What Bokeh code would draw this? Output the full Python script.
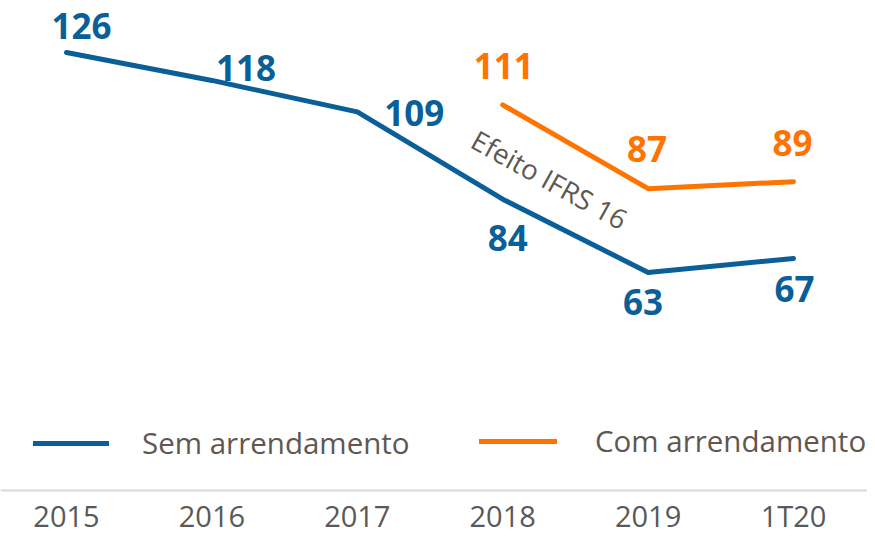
from bokeh.plotting import figure
from bokeh.models import (Range1d, FixedTicker, ColumnDataSource, Legend,
                          LegendItem, Label)
from bokeh.embed import file_html
from bokeh.resources import INLINE
from bokeh.core.properties import value

# ---- data -------------------------------------------------------------
categories = ["2015", "2016", "2017", "2018", "2019", "1T20"]
sem_arrendamento = [126, 118, 109, 84, 63, 67]
com_categories = ["2018", "2019", "1T20"]
com_arrendamento = [111, 87, 89]

# label offsets in screen pixels (style, not data)
sem_dx = [15, 34, 57, 5, -5, 1]
sem_dy = [-26, -12, 1, 39, 30, 30]
com_dx = [1, -1, -1]
com_dy = [-39, -40, -39]

BLUE = "#0A5F98"
ORANGE = "#FF7300"
TXT = "#5F5750"
AXIS_TXT = "#595959"

idx = {c: i for i, c in enumerate(categories)}
x_sem = [idx[c] for c in categories]
x_com = [idx[c] for c in com_categories]

p = figure(width=867, height=538, output_backend="svg", toolbar_location=None,
           x_range=Range1d(-0.454, 5.509), y_range=Range1d(-13.18, 140.89),
           y_axis_location=None,
           min_border_left=0, min_border_right=0, min_border_top=0,
           min_border_bottom=0)
p.outline_line_color = None
p.xgrid.visible = False
p.ygrid.visible = False
p.background_fill_color = None
p.border_fill_color = "white"

ax = p.xaxis[0]
ax.fixed_location = 0.6
ax.ticker = FixedTicker(ticks=list(range(len(categories))))
ax.major_label_overrides = {i: c for i, c in enumerate(categories)}
ax.axis_line_color = "#D9D9D9"
ax.axis_line_width = 2
ax.major_tick_line_color = None
ax.minor_tick_line_color = None
ax.major_label_standoff = 0
ax.major_label_text_font = "Open Sans"
ax.major_label_text_font_size = "29px"
ax.major_label_text_color = AXIS_TXT

src_sem = ColumnDataSource(dict(x=x_sem, y=sem_arrendamento,
                                t=[str(v) for v in sem_arrendamento],
                                dx=sem_dx, dy=sem_dy))
src_com = ColumnDataSource(dict(x=x_com, y=com_arrendamento,
                                t=[str(v) for v in com_arrendamento],
                                dx=com_dx, dy=com_dy))

r_sem = p.line("x", "y", source=src_sem, line_color=BLUE, line_width=5,
               line_cap="round", line_join="round")
r_com = p.line("x", "y", source=src_com, line_color=ORANGE, line_width=5,
               line_cap="round", line_join="round")

for src, col in ((src_sem, BLUE), (src_com, ORANGE)):
    p.text("x", "y", text="t", source=src, x_offset="dx", y_offset="dy",
           text_font=value("Open Sans"), text_font_style="bold",
           text_font_size="35px", text_color=col, text_align="center",
           text_baseline="middle")

p.add_layout(Label(x=3.322, y=89.6, text="Efeito IFRS 16", angle=-29,
                   angle_units="deg", text_align="center",
                   text_baseline="middle", text_font="Open Sans",
                   text_font_size="27.5px", text_color=TXT))

def make_legend(label, renderer, loc, standoff, gw):
    lg = Legend(items=[LegendItem(label=label, renderers=[renderer])],
                location=loc, orientation="horizontal",
                glyph_width=gw, glyph_height=30, label_height=30,
                label_standoff=standoff, padding=0, margin=0, spacing=0,
                border_line_color=None, background_fill_alpha=0,
                label_text_font="Open Sans", label_text_font_size="29.5px",
                label_text_color=TXT)
    p.add_layout(lg, "center")

make_legend("Sem arrendamento", r_sem, (33, 75), 33, 76)
make_legend("Com arrendamento", r_com, (479, 77), 38, 78)

open("out.html", "w").write(file_html(p, INLINE))
